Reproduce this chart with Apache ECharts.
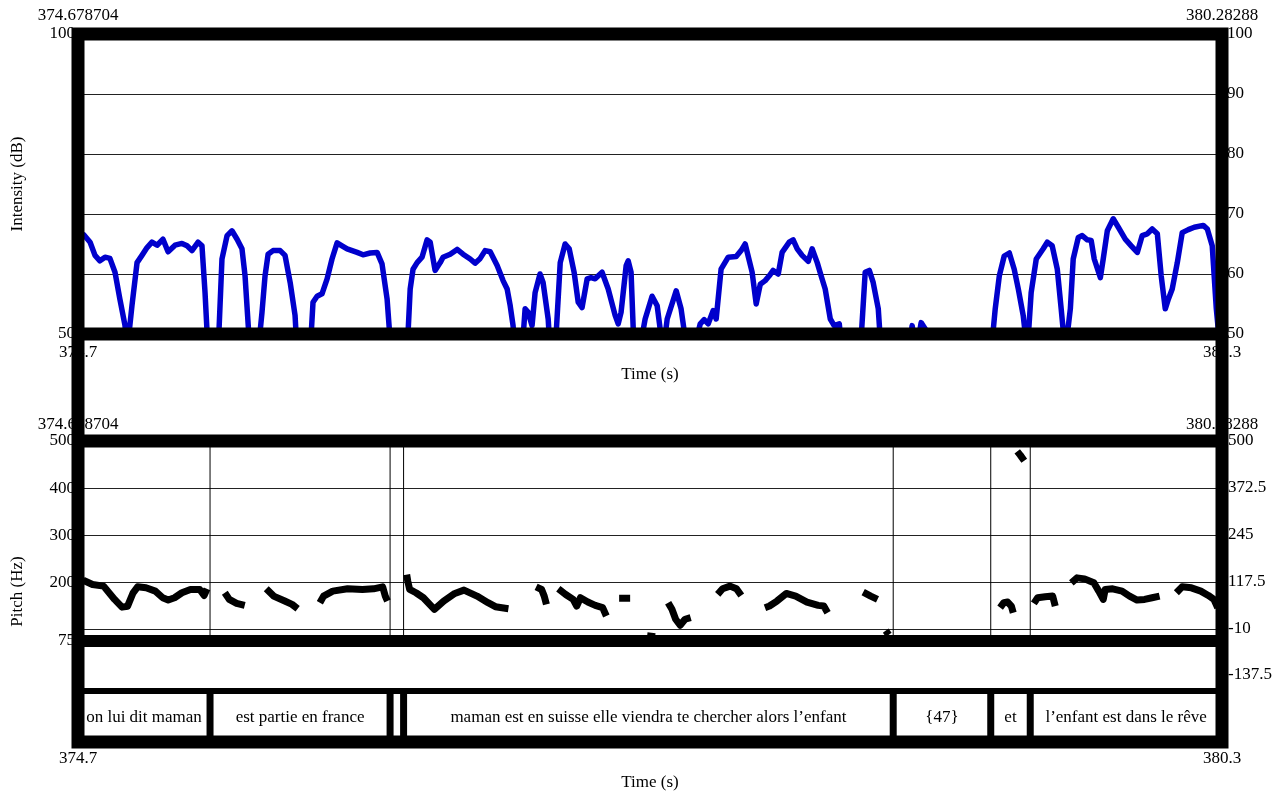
<!DOCTYPE html>
<html><head><meta charset="utf-8">
<script src="https://cdn.jsdelivr.net/npm/echarts@6/dist/echarts.min.js"></script>
<style>html,body{margin:0;padding:0;background:#fff}#c{width:1275px;height:794px}</style>
</head><body><div id="c"></div>
<script>
// ---------------- data ----------------
const tMin = 374.678704, tMax = 380.28288;

const intensityTime = [
  374.680, 374.708, 374.738, 374.762, 374.786, 374.811, 374.835, 374.860, 374.884, 374.909,
  374.919, 374.943, 374.968, 374.992, 375.017, 375.041, 375.066, 375.095, 375.120, 375.154,
  375.188, 375.213, 375.237, 375.267, 375.286, 375.301, 375.316, 375.365, 375.384, 375.409,
  375.433, 375.458, 375.482, 375.497, 375.521, 375.561, 375.580, 375.595, 375.610, 375.634,
  375.669, 375.693, 375.718, 375.742, 375.752, 375.816, 375.830, 375.850, 375.874, 375.899,
  375.923, 375.948, 375.972, 375.997, 376.046, 376.075, 376.110, 376.144, 376.168, 376.193,
  376.212, 376.291, 376.306, 376.320, 376.340, 376.364, 376.389, 376.404, 376.428, 376.453,
  376.467, 376.502, 376.536, 376.565, 376.600, 376.624, 376.649, 376.673, 376.698, 376.732,
  376.761, 376.781, 376.796, 376.810, 376.820, 376.854, 376.869, 376.884, 376.903, 376.918,
  376.942, 376.957, 376.982, 376.992, 377.016, 377.041, 377.065, 377.085, 377.109, 377.129,
  377.148, 377.173, 377.192, 377.212, 377.246, 377.276, 377.310, 377.325, 377.339, 377.364,
  377.374, 377.388, 377.403, 377.428, 377.457, 377.491, 377.516, 377.545, 377.565, 377.609,
  377.633, 377.663, 377.692, 377.727, 377.746, 377.766, 377.790, 377.805, 377.829, 377.864,
  377.903, 377.927, 377.947, 377.981, 378.001, 378.021, 378.045, 378.065, 378.084, 378.109,
  378.128, 378.163, 378.182, 378.202, 378.226, 378.256, 378.275, 378.300, 378.319, 378.339,
  378.364, 378.383, 378.408, 378.422, 378.511, 378.535, 378.555, 378.574, 378.599, 378.613,
  378.746, 378.765, 378.785, 378.809, 378.834, 378.853, 378.917, 378.937, 379.152, 379.172,
  379.192, 379.216, 379.241, 379.265, 379.285, 379.309, 379.329, 379.348, 379.373, 379.407,
  379.427, 379.451, 379.476, 379.495, 379.515, 379.540, 379.554, 379.579, 379.598, 379.623,
  379.642, 379.657, 379.687, 379.701, 379.721, 379.750, 379.775, 379.809, 379.838, 379.868,
  379.892, 379.917, 379.941, 379.966, 379.985, 380.005, 380.020, 380.039, 380.064, 380.088,
  380.118, 380.147, 380.191, 380.211, 380.235, 380.255, 380.275
];
const intensityDb = [
  67.0, 66.5, 65.3, 63.1, 62.2, 62.8, 62.6, 60.3, 55.8, 51.4,
  47, 54.7, 61.9, 63.1, 64.4, 65.3, 64.8, 65.8, 63.7, 64.8,
  65.1, 64.7, 63.9, 65.3, 64.7, 56.9, 47, 47, 62.5, 66.4,
  67.2, 65.8, 64.2, 59.7, 47, 47, 53.6, 59.7, 63.3, 63.9,
  63.9, 63.1, 58.6, 53.1, 47, 47, 55.3, 56.3, 56.7, 59.2,
  62.5, 65.2, 64.7, 64.2, 63.6, 63.2, 63.5, 63.6, 61.7, 55.8,
  47, 47, 57.5, 60.8, 61.9, 62.8, 65.7, 65.3, 60.6, 61.9,
  62.8, 63.3, 64.1, 63.3, 62.5, 61.8, 62.6, 63.9, 63.7, 61.4,
  58.9, 57.5, 54.7, 51.4, 47, 47, 54.2, 53.6, 51.4, 56.9,
  60, 58.6, 52.5, 47, 47, 61.9, 65, 64.2, 60.3, 55.3,
  54.4, 59.2, 59.4, 59.2, 60.3, 57.5, 53.1, 51.7, 53.6, 61.4,
  62.2, 60.3, 47, 47, 52.5, 56.3, 54.7, 47, 52.5, 57.2,
  54.2, 47, 47, 51.7, 52.4, 51.7, 53.9, 52.5, 60.8, 62.8,
  62.9, 63.9, 65, 60.3, 55, 58.3, 58.9, 59.7, 60.6, 60,
  63.6, 65.3, 65.7, 64.2, 63.1, 62.1, 64.2, 61.9, 59.7, 57.5,
  52.5, 51.4, 51.7, 47, 47, 60.3, 60.6, 58.6, 54.2, 47,
  47, 51.4, 47, 51.9, 50.6, 47, 50.3, 47, 47, 54.2,
  59.7, 63, 63.5, 60.8, 57.5, 53.1, 47, 56.9, 62.5, 64.2,
  65.3, 64.7, 60.8, 54.2, 47, 54.2, 62.5, 66.1, 66.4, 65.7,
  65.6, 62.5, 59.4, 62.5, 67.2, 69.2, 67.8, 65.8, 64.7, 63.6,
  66.4, 66.7, 67.5, 66.7, 59.7, 54.2, 55.8, 57.5, 61.9, 66.9,
  67.4, 67.8, 68.1, 67.5, 64.7, 54.2, 47
];

// pitch contour: one list per voiced stretch
const pitchSegTime = [
  [374.7042, 374.7498, 374.8041, 374.8580, 374.8943, 374.9217, 374.9487, 374.9707, 375.0119, 375.0575, 375.0937, 375.1207, 375.1516, 375.1878, 375.2295, 375.2750, 375.2966, 375.3108],
  [375.3980, 375.4196, 375.4558, 375.4955],
  [375.6009, 375.6371, 375.6915, 375.7273, 375.7547],
  [375.8635, 375.8817, 375.9267, 375.9993, 376.0718, 376.1262, 376.1712, 376.1840, 376.1948],
  [376.2888, 376.2942, 376.3035, 376.3344, 376.3707, 376.4246, 376.4701, 376.5245, 376.5696, 376.6333, 376.6872, 376.7235, 376.7872],
  [376.9229, 376.9499, 376.9626, 376.9734],
  [377.0317, 377.0679, 377.1042, 377.1218, 377.1400, 377.1762, 377.2125, 377.2488, 377.2669],
  [377.3296, 377.3835],
  [377.4668, 377.5060],
  [377.5697, 377.5883, 377.6065, 377.6285, 377.6525, 377.6800],
  [377.8123, 377.8363, 377.8730, 377.9044, 377.9279],
  [378.0440, 378.0661, 378.1028, 378.1484, 378.1945, 378.2498, 378.3047, 378.3321, 378.3508],
  [378.5252, 378.5620, 378.5953],
  [378.6355, 378.6502],
  [379.1960, 379.2141, 379.2328, 379.2509, 379.2602],
  [379.2798, 379.2945, 379.3141],
  [379.3611, 379.3798, 379.4165, 379.4533, 379.4660],
  [379.5449, 379.5728, 379.6096, 379.6551, 379.6792, 379.7012, 379.7105, 379.7473, 379.7933, 379.8301, 379.8668, 379.9036, 379.9403, 379.9771],
  [380.0594, 380.0873, 380.1329, 380.1790, 380.2157, 380.2431, 380.2618]
];
const pitchSegHz = [
  [204.2, 195.1, 191.6, 163.4, 147, 149, 177.5, 190.1, 188, 181, 166.9, 162, 166.9, 177.5, 184.5, 184.5, 171.8, 185.9],
  [177.5, 163.4, 155, 150.7],
  [185.9, 170.4, 159.9, 152.8, 143.7],
  [156.4, 170.4, 181, 185.9, 184.5, 185.9, 190.1, 170.4, 159.9],
  [216.2, 202.1, 184.5, 177.5, 166.9, 142.3, 159.9, 176.1, 183.1, 170.4, 156.4, 147.9, 143.7],
  [190.1, 184.5, 170.4, 152.8],
  [185.9, 173.8, 163.4, 149.3, 166.9, 157.8, 150.7, 145.8, 128.2],
  [166, 166],
  [86, 84],
  [156.4, 142.3, 121.2, 108.5, 121.2, 124.7],
  [174, 185.9, 191.6, 185.9, 171.8],
  [145.8, 149.3, 159.9, 176.1, 170.4, 157.8, 150.7, 149.3, 135.2],
  [178.9, 170.4, 163.4],
  [97, 88],
  [145.8, 156.4, 157.8, 149.3, 135.2],
  [478, 470, 458],
  [155, 166.9, 169, 170.4, 149.3],
  [198.6, 209.2, 207, 198.6, 181, 163.4, 184.5, 185.9, 181, 170.4, 162, 163.4, 166.9, 170.4],
  [177.5, 190.1, 188, 181, 171.8, 163.4, 145.8]
];

// TextGrid tier
const boundaries = [375.3255, 376.2075, 376.2737, 378.6722, 379.1500, 379.3435];
const intervalLabels = ['on lui dit maman', 'est partie en france', '',
  'maman est en suisse elle viendra te chercher alors l\u2019enfant', '{47}', 'et',
  'l\u2019enfant est dans le r\u00eave'];

// tick labels / grid lines
const intensityLeftLabels = [50, 100];
const intensityRightLabels = [50, 60, 70, 80, 90, 100];
const intensityGridValues = [50, 60, 70, 80, 90, 100];
const pitchLeftLabels = [75, 200, 300, 400, 500];
const pitchGridValues = [75, 100, 200, 300, 400, 500];
const pitchRightLabels = [-137.5, -10, 117.5, 245, 372.5, 500];
const timeEnds = [tMin, tMax];

// ---------------- layout ----------------
const FL = 78, FR = 1222, W = FR - FL;
const IT = 34, IB = 334;          // intensity frame
const PT = 441, PB = 641;         // pitch frame
const RB = 675;                   // right pitch scale bottom
const TT = 691, FB = 742;         // tier top, lower frame bottom
const FONT = 'Liberation Serif', FS = 17;
const txt = {color: '#000', fontFamily: FONT, fontSize: FS};

function grid(top, height) {
  return {left: FL, top: top, width: W, height: height, containLabel: false, outerBoundsMode: 'none', show: false};
}
function timeAxis(gridIndex, position, labelFmt, margin, name, show) {
  return {
    type: 'value', gridIndex, position, min: tMin, max: tMax,
    axisLine: {show: false}, axisTick: {show: false}, splitLine: {show: false},
    axisLabel: show ? Object.assign({show: true, margin, customValues: timeEnds, formatter: labelFmt}, txt) : {show: false},
    name: name || '', nameLocation: 'middle', nameGap: 32, nameTextStyle: txt, nameMoveOverlap: false
  };
}
const fmtShort = v => v.toFixed(1);
const fmtLong = v => String(v);

const series = [];
series.push({
  type: 'line', xAxisIndex: 0, yAxisIndex: 0, clip: true, showSymbol: false, silent: true,
  data: intensityTime.map((t, i) => [t, intensityDb[i]]),
  lineStyle: {color: '#0000cc', width: 5.5, join: 'round', cap: 'round'}, z: 3
});
pitchSegTime.forEach((ts, k) => {
  series.push({
    type: 'line', xAxisIndex: 2, yAxisIndex: 2, clip: true, showSymbol: false, silent: true,
    data: ts.map((t, i) => [t, pitchSegHz[k][i]]),
    lineStyle: {color: '#000', width: 7, join: 'round', cap: 'butt'}, z: 4
  });
});
function vline(width) {
  return function (params, api) {
    const cs = params.coordSys;
    const x = api.coord([api.value(0), api.value(1)])[0];
    return {type: 'line', shape: {x1: x, y1: cs.y, x2: x, y2: cs.y + cs.height},
      style: {stroke: '#000', lineWidth: width}};
  };
}
// boundary lines through the pitch panel
series.push({type: 'custom', xAxisIndex: 2, yAxisIndex: 2, silent: true, z: 2,
  data: boundaries.map(b => [b, 300]), renderItem: vline(1)});
// tier separators
series.push({type: 'custom', xAxisIndex: 5, yAxisIndex: 4, silent: true, z: 5,
  data: boundaries.map(b => [b, 0.5]), renderItem: vline(7)});
// tier texts
const starts = [tMin].concat(boundaries), ends = boundaries.concat([tMax]);
series.push({type: 'custom', xAxisIndex: 5, yAxisIndex: 4, silent: true, z: 6,
  data: starts.map((s, i) => [s, ends[i], i]),
  renderItem: function (params, api) {
    const cs = params.coordSys;
    const x0 = api.coord([api.value(0), 0.5])[0], x1 = api.coord([api.value(1), 0.5])[0];
    return {type: 'text', x: (x0 + x1) / 2, y: cs.y + cs.height / 2 + 1,
      style: {text: intervalLabels[api.value(2)], fill: '#000', fontFamily: FONT, fontSize: FS,
        align: 'center', verticalAlign: 'middle'}};
  }});

const option = {
  animation: false,
  backgroundColor: '#fff',
  grid: [grid(IT, IB - IT), grid(PT, PB - PT), grid(PT, RB - PT), grid(PT, FB - PT), grid(TT, FB - TT)],
  xAxis: [
    timeAxis(0, 'bottom', fmtShort, 10, 'Time (s)', true),
    timeAxis(0, 'top', fmtLong, 10, '', true),
    timeAxis(1, 'top', fmtLong, 8, '', true),
    timeAxis(2, 'bottom', fmtShort, 10, '', false),
    timeAxis(3, 'bottom', fmtShort, 8, 'Time (s)', true),
    timeAxis(4, 'bottom', fmtShort, 8, '', false)
  ],
  yAxis: [
    {type: 'value', gridIndex: 0, position: 'left', min: 50, max: 100,
      axisLine: {show: false}, axisTick: {show: false, customValues: intensityGridValues},
      splitLine: {show: true, lineStyle: {color: '#222', width: 1}},
      axisLabel: Object.assign({margin: 3, customValues: intensityLeftLabels}, txt),
      name: 'Intensity (dB)', nameLocation: 'middle', nameGap: 52, nameTextStyle: txt, nameMoveOverlap: false},
    {type: 'value', gridIndex: 0, position: 'right', min: 50, max: 100,
      axisLine: {show: false}, axisTick: {show: false}, splitLine: {show: false},
      axisLabel: Object.assign({margin: 5, customValues: intensityRightLabels}, txt)},
    {type: 'value', gridIndex: 1, position: 'left', min: 75, max: 500,
      axisLine: {show: false}, axisTick: {show: false, customValues: pitchGridValues},
      splitLine: {show: true, lineStyle: {color: '#222', width: 1}},
      axisLabel: Object.assign({margin: 3, customValues: pitchLeftLabels}, txt)},
    {type: 'value', gridIndex: 2, position: 'right', min: -137.5, max: 500,
      axisLine: {show: false}, axisTick: {show: false}, splitLine: {show: false},
      axisLabel: Object.assign({margin: 6, customValues: pitchRightLabels}, txt)},
    {type: 'value', gridIndex: 4, position: 'left', min: 0, max: 1, show: true,
      axisLine: {show: false}, axisTick: {show: false}, splitLine: {show: false}, axisLabel: {show: false}},
    {type: 'value', gridIndex: 3, position: 'left', min: 0, max: 1,
      axisLine: {show: false}, axisTick: {show: false}, splitLine: {show: false}, axisLabel: {show: false},
      name: 'Pitch (Hz)', nameLocation: 'middle', nameGap: 52, nameTextStyle: txt, nameMoveOverlap: false}
  ],
  series: series,
  graphic: {elements: [
    {type: 'rect', z: 100, silent: true, shape: {x: FL, y: IT, width: W, height: FB - IT},
      style: {fill: 'none', stroke: '#000', lineWidth: 13, lineJoin: 'miter'}},
    {type: 'line', z: 100, silent: true, shape: {x1: FL, y1: IB, x2: FR, y2: IB}, style: {stroke: '#000', lineWidth: 13}},
    {type: 'line', z: 100, silent: true, shape: {x1: FL, y1: PT, x2: FR, y2: PT}, style: {stroke: '#000', lineWidth: 13}},
    {type: 'line', z: 100, silent: true, shape: {x1: FL, y1: PB, x2: FR, y2: PB}, style: {stroke: '#000', lineWidth: 12}},
    {type: 'line', z: 100, silent: true, shape: {x1: FL, y1: TT, x2: FR, y2: TT}, style: {stroke: '#000', lineWidth: 6}}
  ]}
};
const chart = echarts.init(document.getElementById('c'), null, {renderer: 'canvas'});
chart.setOption(option);
</script>
</body></html>
